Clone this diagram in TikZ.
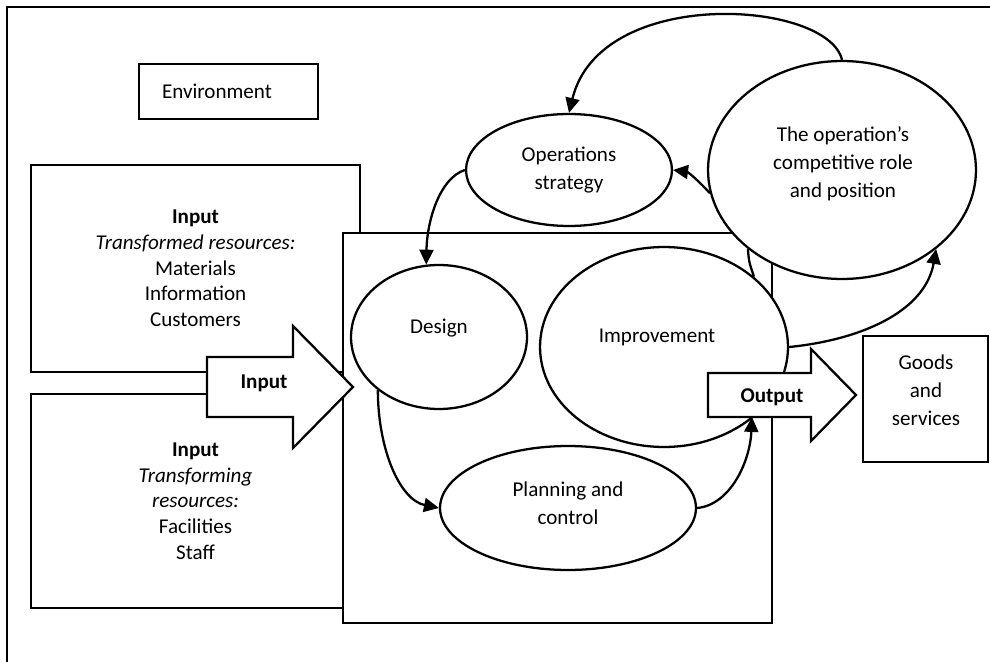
\documentclass[tikz,border=0pt]{standalone}
\usepackage{fontspec}
\setmainfont{Carlito}
\usetikzlibrary{shapes.geometric,arrows.meta}

\tikzset{
  box/.style={draw, fill=white, line width=1.3pt, inner sep=0pt},
  oval/.style={draw, fill=white, ellipse, line width=1.3pt, inner sep=0pt},
  flow/.style={line width=1.3pt, -{Triangle[width=8pt,length=8.5pt]}},
  bigarrow/.style={draw, fill=white, line width=1.3pt, line join=miter},
  single/.style={font=\fontsize{12}{14.6}\selectfont, align=center},
}

\begin{document}
\begin{tikzpicture}[x=0.02cm,y=-0.02cm,font=\fontsize{12}{15.9}\selectfont]
\useasboundingbox (0,0) rectangle (990,662);
% environment frame
\draw[line width=1.3pt] (7,662) -- (7,7) -- (990,7);

\node[box, minimum width=3.58cm, minimum height=1.1cm, text width=2.66cm, inner xsep=0.46cm, align=left] (env) at (228.5,91.5) {Environment};

% input boxes
\node[box, single, minimum width=6.58cm, minimum height=4.14cm] (trd) at (195.5,268.5) {\textbf{Input}\\\textit{Transformed resources:}\\Materials\\Information\\Customers};
\node[box, single, minimum width=6.58cm, minimum height=4.28cm] (trg) at (195.5,501) {\textbf{Input}\\\textit{Transforming}\\\textit{resources:}\\Facilities\\Staff};

% transformation process
\node[box, minimum width=8.58cm, minimum height=7.8cm] (core) at (557.5,428) {};

\node[oval, minimum width=4.96cm, minimum height=4cm] (imp) at (664,347) {};
\node[oval, minimum width=5.36cm, minimum height=4.36cm] (comp) at (842,170) {};
\draw[line width=1.3pt] (imp.38) .. controls (749,262) .. (comp.220);

\node[oval, minimum width=3.52cm, minimum height=2.88cm] (design) at (439,337) {};
\node[oval, minimum width=5.12cm, minimum height=2.48cm] (plan) at (568,508) {};
\node[oval, minimum width=4.12cm, minimum height=2.24cm] (ops) at (569,170) {};

\node (designtxt) at (439,328) {Design};
\node (imptxt) at (657,337) {Improvement};
\node[align=center] (plantxt) at (568,503) {Planning and\\control};
\node[align=center] (opstxt) at (569,170) {Operations\\strategy};
\node[align=center] (comptxt) at (843,164) {The operation’s\\competitive role\\and position};

% input and output arrows
\draw[bigarrow] (207,357) -- (293,357) -- (293,326) -- (353,387) -- (293,448) -- (293,417) -- (207,417) -- cycle;
\node (inlbl) at (264,383) {\textbf{Input}};
\draw[bigarrow] (708,373) -- (811,373) -- (811,349) -- (856,395) -- (811,441) -- (811,417) -- (708,417) -- cycle;
\node (outlbl) at (772,397) {\textbf{Output}};
\coordinate (outbot) at (752,417);

\node[box, minimum width=2.5cm, minimum height=2.52cm] (goods) at (925.5,399) {};
\node[align=center] (goodstxt) at (926,390) {Goods\\and\\services};

% links between activities
\draw[flow] (comp.north) .. controls (828,0) and (600,-15) .. (ops.north);
\draw[flow] (comp.190) .. controls (700,182) and (688,172) .. (ops.east);
\draw[flow] (ops.west) .. controls (440,178) and (427,220) .. (design.100);
\draw[flow] (design.221) .. controls (378,450) and (400,500) .. (plan.west);
\draw[flow] (plan.east) .. controls (730,505) and (750,462) .. (outbot);
\draw[flow] (imp.east) .. controls (860,340) and (925,312) .. (comp.320);
\end{tikzpicture}
\end{document}
